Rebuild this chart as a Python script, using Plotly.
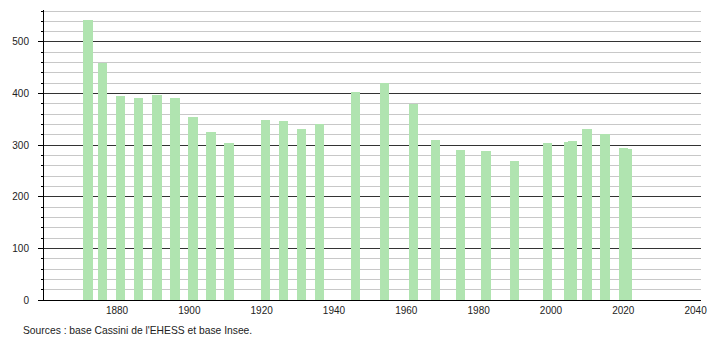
import plotly.graph_objects as go

years = [1872, 1876, 1881, 1886, 1891, 1896, 1901, 1906, 1911,
         1921, 1926, 1931, 1936, 1946, 1954, 1962, 1968, 1975,
         1982, 1990, 1999, 2005, 2006, 2010, 2015, 2020, 2021]
population = [543, 459, 396, 391, 398, 392, 354, 325, 304,
              348, 347, 332, 342, 404, 420, 380, 311, 290,
              288, 270, 305, 306, 309, 332, 321, 294, 292]
x_ticks = [1880, 1900, 1920, 1940, 1960, 1980, 2000, 2020, 2040]
y_ticks = [0, 100, 200, 300, 400, 500]
source_text = "Sources : base Cassini de l'EHESS et base Insee."

font_family = "Liberation Sans, Arial, sans-serif"

fig = go.Figure()
fig.add_trace(go.Bar(
    x=years, y=population, width=[2.6] * len(years),
    marker=dict(color="#b0e4b0", line=dict(width=0)),
    hoverinfo="x+y",
))

fig.update_layout(
    width=710, height=340,
    margin=dict(l=44, r=9, t=10, b=40, autoexpand=False),
    paper_bgcolor="white", plot_bgcolor="white",
    showlegend=False,
    font=dict(family=font_family, size=10, color="#222"),
    bargap=0,
)

fig.update_xaxes(
    range=[1859.8, 2041.5], automargin=False,
    tickmode="array", tickvals=x_ticks, ticktext=[str(t) for t in x_ticks],
    showgrid=False, zeroline=False,
    showline=True, linecolor="#000", linewidth=1,
    ticks="", ticklabelstandoff=1,
    tickfont=dict(family=font_family, size=10, color="#222"),
)

fig.update_yaxes(
    range=[0, 562], automargin=False,
    tickmode="array", tickvals=y_ticks, ticktext=[str(t) for t in y_ticks],
    showgrid=True, gridcolor="#333", gridwidth=1,
    zeroline=False,
    showline=True, linecolor="#000", linewidth=1,
    ticks="outside", ticklen=5, tickcolor="#000", tickwidth=1,
    ticklabelstandoff=7,
    minor=dict(dtick=20, tick0=0, ticks="outside", ticklen=2, tickcolor="#000",
               showgrid=True, gridcolor="#c8c8c8", gridwidth=1),
    tickfont=dict(family=font_family, size=10, color="#222"),
)

fig.add_annotation(
    text=source_text, xref="paper", yref="paper",
    x=(20.7 - 44) / 657, y=(300 - 330) / 290,
    xanchor="left", yanchor="middle", showarrow=False,
    font=dict(family=font_family, size=10.3, color="#222"),
)

fig.write_html("out.html")
